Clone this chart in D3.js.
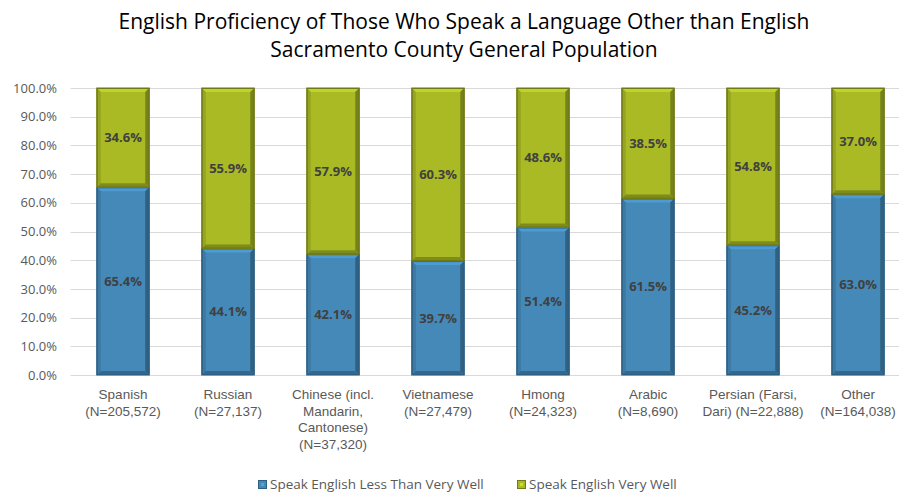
<!DOCTYPE html>
<html>
<head>
<meta charset="utf-8">
<script src="https://cdn.jsdelivr.net/npm/d3@7"></script>
<style>
  html, body { margin: 0; padding: 0; background: #fff; }
  svg { display: block; font-family: "Open Sans", "Noto Sans", sans-serif; }
</style>
</head>
<body>
<svg id="chart" width="899" height="493"></svg>
<script>
// Language groups (label lines as displayed under each bar)
const categories = [
  ["Spanish", "(N=205,572)"],
  ["Russian", "(N=27,137)"],
  ["Chinese (incl.", "Mandarin,", "Cantonese)", "(N=37,320)"],
  ["Vietnamese", "(N=27,479)"],
  ["Hmong", "(N=24,323)"],
  ["Arabic", "(N=8,690)"],
  ["Persian (Farsi,", "Dari) (N=22,888)"],
  ["Other", "(N=164,038)"]
];
// Share of speakers, percent
const lessThanVeryWell = [65.4, 44.1, 42.1, 39.7, 51.4, 61.5, 45.2, 63.0];
const veryWell = [34.6, 55.9, 57.9, 60.3, 48.6, 38.5, 54.8, 37.0];
const seriesNames = ["Speak English Less Than Very Well", "Speak English Very Well"];
const yTicks = [0, 10, 20, 30, 40, 50, 60, 70, 80, 90, 100];
const titleLines = [
  "English Proficiency of Those Who Speak a Language Other than English",
  "Sacramento County General Population"
];

const colors = ["#4589b9", "#a9ba25"];
const edgeColors = ["#2c5f82", "#6f7a14"];

const svg = d3.select("#chart");
const W = 899;

const x = d3.scaleBand()
  .domain(d3.range(categories.length))
  .range([70.5, 910.5])
  .paddingInner(0.5)
  .paddingOuter(0.25);

const y = d3.scaleLinear().domain([0, 100]).range([375, 88]);

// Title
svg.append("g").selectAll("text")
  .data(titleLines)
  .join("text")
  .attr("x", 464)
  .attr("y", (d, i) => 29 + i * 28)
  .attr("text-anchor", "middle")
  .attr("font-size", 21)
  .attr("fill", "#000")
  .text(d => d);

// Gridlines
svg.append("g").selectAll("line")
  .data(yTicks)
  .join("line")
  .attr("x1", 70.5).attr("x2", W)
  .attr("y1", d => Math.round(y(d)) + 0.5)
  .attr("y2", d => Math.round(y(d)) + 0.5)
  .attr("stroke", "#d9d9d9")
  .attr("stroke-width", 1.2);

// Y axis
const yAxis = d3.axisLeft(y)
  .tickValues(yTicks)
  .tickFormat(d => d.toFixed(1) + "%")
  .tickSize(0)
  .tickPadding(0);
const gy = svg.append("g").attr("transform", "translate(57,0)").call(yAxis);
gy.select(".domain").remove();
gy.selectAll("text").attr("font-size", 13).attr("fill", "#595959")
  .attr("font-family", "Open Sans, sans-serif");

// Stacked data
const stackData = categories.map((c, i) => ({ i, a: lessThanVeryWell[i], b: veryWell[i] }));
const stacked = d3.stack().keys(["a", "b"])(stackData);

// Bevelled bar segment
function bevelSegment(g, x0, y0, w, h, si) {
  const base = d3.color(colors[si]);
  const bv = 4;
  g.append("rect")
    .attr("x", x0).attr("y", y0).attr("width", w).attr("height", h)
    .attr("fill", base).attr("stroke", edgeColors[si]).attr("stroke-width", 1);
  const x1 = x0 + w, y1 = y0 + h;
  const polys = [
    { pts: [[x0, y0], [x1, y0], [x1 - bv, y0 + bv], [x0 + bv, y0 + bv]], c: base.brighter(0.35) },
    { pts: [[x0, y0], [x0 + bv, y0 + bv], [x0 + bv, y1 - bv], [x0, y1]], c: base.darker(0.35) },
    { pts: [[x1, y0], [x1, y1], [x1 - bv, y1 - bv], [x1 - bv, y0 + bv]], c: base.darker(1.0) },
    { pts: [[x0, y1], [x0 + bv, y1 - bv], [x1 - bv, y1 - bv], [x1, y1]], c: base.darker(0.8) }
  ];
  polys.forEach(p => {
    g.append("polygon")
      .attr("points", p.pts.map(q => q.join(",")).join(" "))
      .attr("fill", p.c);
  });
  g.append("rect")
    .attr("x", x0 + 0.5).attr("y", y0 + 0.5).attr("width", w - 1).attr("height", h - 1)
    .attr("fill", "none").attr("stroke", edgeColors[si]).attr("stroke-width", 1);
}

const bars = svg.append("g");
stacked.forEach((layer, si) => {
  layer.forEach((d, i) => {
    const g = bars.append("g");
    const top = y(d[1]), bot = y(d[0]);
    bevelSegment(g, x(i), top, x.bandwidth(), bot - top, si);
  });
});

// Value labels
const labels = svg.append("g");
stacked.forEach((layer, si) => {
  layer.forEach((d, i) => {
    const v = si === 0 ? lessThanVeryWell[i] : veryWell[i];
    labels.append("text")
      .attr("x", x(i) + x.bandwidth() / 2)
      .attr("y", y((d[0] + d[1]) / 2))
      .attr("dy", "0.35em")
      .attr("text-anchor", "middle")
      .attr("font-size", 13)
      .attr("font-weight", "bold")
      .attr("fill", "#404040")
      .text(v.toFixed(1) + "%");
  });
});

// X axis with multi-line category labels
const xAxis = d3.axisBottom(x).tickSize(0).tickPadding(0).tickFormat(() => "");
const gx = svg.append("g").attr("transform", "translate(0,375)").call(xAxis);
gx.select(".domain").remove();
gx.selectAll(".tick text").remove();
gx.selectAll(".tick").each(function (d) {
  const t = d3.select(this).append("text")
    .attr("text-anchor", "middle")
    .attr("font-size", 13.5)
    .attr("fill", "#595959")
    .attr("y", 24);
  categories[d].forEach((line, k) => {
    t.append("tspan").attr("x", 0).attr("dy", k === 0 ? 0 : 16.5).text(line);
  });
});

// Legend
const legend = svg.append("g");
const legendX = [258, 517];
seriesNames.forEach((name, si) => {
  const g = legend.append("g").attr("transform", `translate(${legendX[si]},480)`);
  g.append("rect").attr("x", 0.5).attr("y", 0.5).attr("width", 8).attr("height", 8)
    .attr("fill", colors[si]).attr("stroke", edgeColors[si]);
  g.append("rect").attr("x", 3).attr("y", 3).attr("width", 3).attr("height", 3)
    .attr("fill", d3.color(colors[si]).brighter(0.5));
  g.append("text").attr("x", 12).attr("y", 9).attr("font-size", 13.5)
    .attr("fill", "#595959").text(name);
});
</script>
</body>
</html>
